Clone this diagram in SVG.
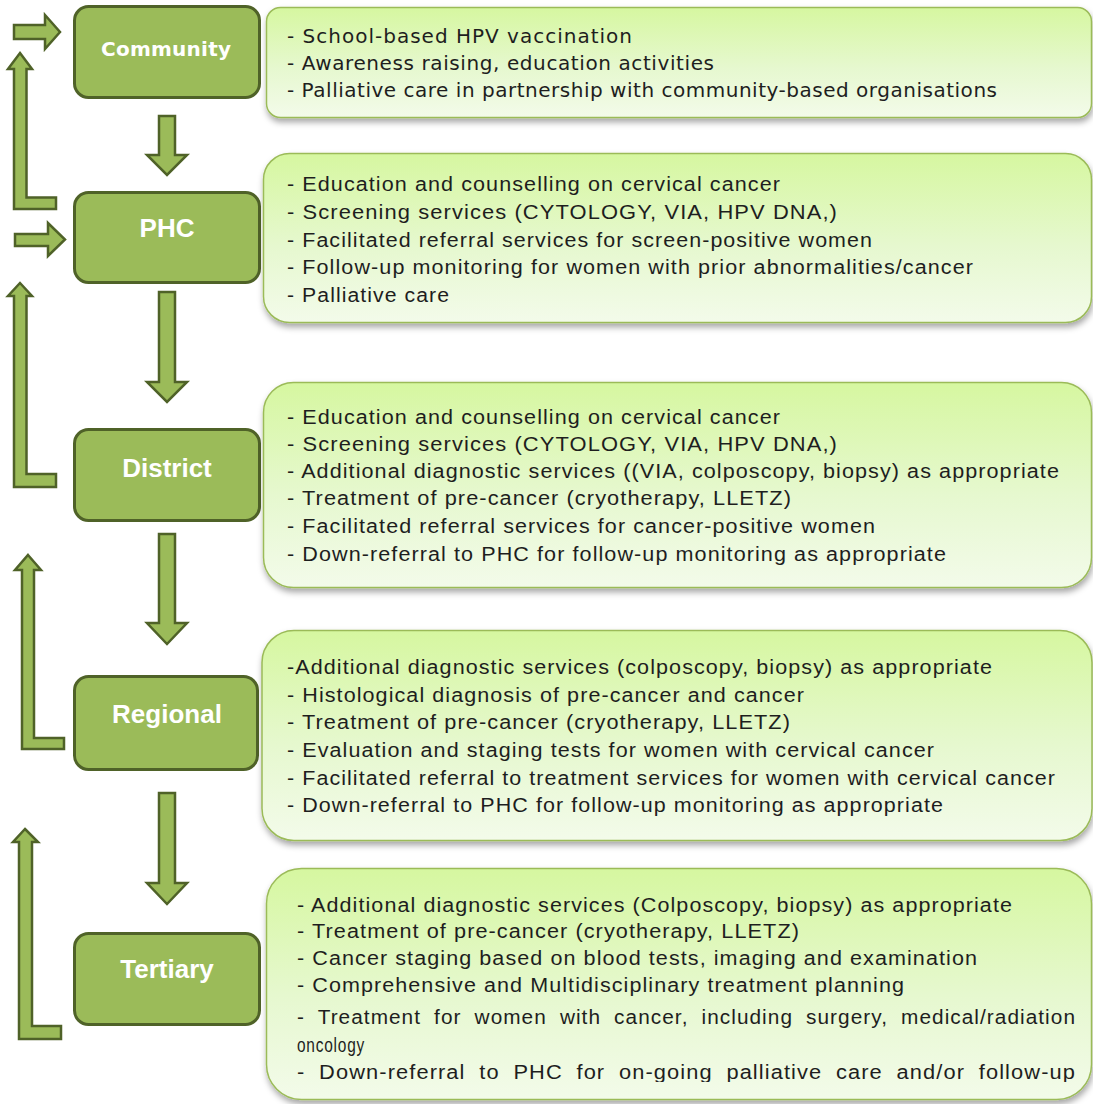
<svg xmlns="http://www.w3.org/2000/svg" width="1093" height="1104" viewBox="0 0 1093 1104">
  <defs>
    <linearGradient id="boxGrad" x1="0" y1="0" x2="0" y2="1">
      <stop offset="0" stop-color="#d6f7a0"/>
      <stop offset="0.55" stop-color="#e6f8cf"/>
      <stop offset="1" stop-color="#f3fbea"/>
    </linearGradient>
    <filter id="shadow" x="-5%" y="-10%" width="110%" height="130%">
      <feDropShadow dx="1" dy="4" stdDeviation="3" flood-color="#000" flood-opacity="0.35"/>
    </filter>
    <clipPath id="clip5">
      <rect x="260" y="860" width="833" height="222"/>
    </clipPath>
  </defs>
  <style>
    .node { fill: #9bbb59; stroke: #4f6228; stroke-width: 3; }
    .label { fill: #ffffff; font-family: "Liberation Sans", Arial, sans-serif; font-weight: bold; font-size: 26px; text-anchor: middle; }
    .label1 { fill: #ffffff; font-family: "DejaVu Sans", sans-serif; font-weight: bold; font-size: 20px; text-anchor: middle; }
    .info { fill: url(#boxGrad); stroke: #9bbb59; stroke-width: 1.5; filter: url(#shadow); }
    .t1 { fill: #1e1e1e; font-family: "DejaVu Sans", sans-serif; font-size: 20px; }
    .t { fill: #1e1e1e; font-family: "Liberation Sans", Arial, sans-serif; font-size: 20px; letter-spacing: 1px; }
    .just { word-spacing: 6px; }
    .arrow { fill: #9bbb59; stroke: #4f6228; stroke-width: 2.5; stroke-linejoin: miter; }
  </style>
  <rect width="1093" height="1104" fill="#ffffff"/>

  <g id="connectors">
    <polygon class="arrow" points="14,25 45,25 45,15 60,32 45,49 45,39 14,39"/>
    <polygon class="arrow" points="15,234 48,234 48,223 65,239.5 48,256 48,246 15,246"/>
    <polygon class="arrow" points="20,53 32,69 26.5,69 26.5,197.5 56,197.5 56,209 14,209 14,69 8,69"/>
    <polygon class="arrow" points="20,283 32,296 26.5,296 26.5,474 56,474 56,487 14,487 14,296 8,296"/>
    <polygon class="arrow" points="28,555 41,570 34,570 34,738 64,738 64,749 22,749 22,570 15,570"/>
    <polygon class="arrow" points="25,829 38,842 32,842 32,1026 61,1026 61,1039 19,1039 19,842 13,842"/>
    <polygon class="arrow" points="159,116 175,116 175,155 187,155 167,175 147,155 159,155"/>
    <polygon class="arrow" points="159,292 175,292 175,382 187,382 167,402 147,382 159,382"/>
    <polygon class="arrow" points="159,534 175,534 175,623 187,623 167,644 147,623 159,623"/>
    <polygon class="arrow" points="159,793 175,793 175,883 187,883 167,904 147,883 159,883"/>
  </g>

  <g id="community">
    <rect class="node" x="74.5" y="6.5" width="185" height="91" rx="14"/>
    <text class="label1" x="166" y="56" textLength="130" lengthAdjust="spacing">Community</text>
  </g>
  <g id="phc">
    <rect class="node" x="74.5" y="192.5" width="185" height="90" rx="14"/>
    <text class="label" x="167" y="237">PHC</text>
  </g>
  <g id="district">
    <rect class="node" x="74.5" y="429.5" width="185" height="91" rx="14"/>
    <text class="label" x="167" y="477">District</text>
  </g>
  <g id="regional">
    <rect class="node" x="74.5" y="676.5" width="183" height="93" rx="14"/>
    <text class="label" x="167" y="723">Regional</text>
  </g>
  <g id="tertiary">
    <rect class="node" x="74.5" y="933.5" width="185" height="91" rx="14"/>
    <text class="label" x="167" y="978">Tertiary</text>
  </g>

  <g id="community-services">
    <rect class="info" x="266.5" y="7.5" width="825" height="110" rx="14"/>
    <text class="t1" x="287" y="43" textLength="345" lengthAdjust="spacing">- School-based HPV vaccination</text>
    <text class="t1" x="287" y="70" textLength="427" lengthAdjust="spacing">- Awareness raising, education activities</text>
    <text class="t1" x="287" y="97" textLength="710" lengthAdjust="spacing">- Palliative care in partnership with community-based organisations</text>
  </g>

  <g id="phc-services">
    <rect class="info" x="263.5" y="153.5" width="828" height="169" rx="26"/>
    <text class="t" x="287" y="191" textLength="494" lengthAdjust="spacingAndGlyphs">- Education and counselling on cervical cancer</text>
    <text class="t" x="287" y="219" textLength="551" lengthAdjust="spacingAndGlyphs">- Screening services (CYTOLOGY, VIA, HPV DNA,)</text>
    <text class="t" x="287" y="247" textLength="586" lengthAdjust="spacingAndGlyphs">- Facilitated referral services for screen-positive women</text>
    <text class="t" x="287" y="274" textLength="687" lengthAdjust="spacingAndGlyphs">- Follow-up monitoring for women with prior abnormalities/cancer</text>
    <text class="t" x="287" y="302" textLength="163" lengthAdjust="spacingAndGlyphs">- Palliative care</text>
  </g>

  <g id="district-services">
    <rect class="info" x="263.5" y="382.5" width="828" height="205" rx="30"/>
    <text class="t" x="287" y="424" textLength="494" lengthAdjust="spacingAndGlyphs">- Education and counselling on cervical cancer</text>
    <text class="t" x="287" y="451" textLength="551" lengthAdjust="spacingAndGlyphs">- Screening services (CYTOLOGY, VIA, HPV DNA,)</text>
    <text class="t" x="287" y="478" textLength="773" lengthAdjust="spacingAndGlyphs">- Additional diagnostic services ((VIA, colposcopy, biopsy) as appropriate</text>
    <text class="t" x="287" y="505" textLength="505" lengthAdjust="spacingAndGlyphs">- Treatment of pre-cancer (cryotherapy, LLETZ)</text>
    <text class="t" x="287" y="533" textLength="589" lengthAdjust="spacingAndGlyphs">- Facilitated referral services for cancer-positive women</text>
    <text class="t" x="287" y="561" textLength="660" lengthAdjust="spacingAndGlyphs">- Down-referral to PHC for follow-up monitoring as appropriate</text>
  </g>

  <g id="regional-services">
    <rect class="info" x="262" y="630.5" width="830" height="210" rx="32"/>
    <text class="t" x="287" y="674" textLength="706" lengthAdjust="spacingAndGlyphs">-Additional diagnostic services (colposcopy, biopsy) as appropriate</text>
    <text class="t" x="287" y="702" textLength="518" lengthAdjust="spacingAndGlyphs">- Histological diagnosis of pre-cancer and cancer</text>
    <text class="t" x="287" y="729" textLength="504" lengthAdjust="spacingAndGlyphs">- Treatment of pre-cancer (cryotherapy, LLETZ)</text>
    <text class="t" x="287" y="757" textLength="648" lengthAdjust="spacingAndGlyphs">- Evaluation and staging tests for women with cervical cancer</text>
    <text class="t" x="287" y="785" textLength="769" lengthAdjust="spacingAndGlyphs">- Facilitated referral to treatment services for women with cervical cancer</text>
    <text class="t" x="287" y="812" textLength="657" lengthAdjust="spacingAndGlyphs">- Down-referral to PHC for follow-up monitoring as appropriate</text>
  </g>

  <g id="tertiary-services">
    <rect class="info" x="266.5" y="868.5" width="825" height="231" rx="35"/>
    <g clip-path="url(#clip5)">
      <text class="t" x="297" y="912" textLength="716" lengthAdjust="spacingAndGlyphs">- Additional diagnostic services (Colposcopy, biopsy) as appropriate</text>
      <text class="t" x="297" y="938" textLength="503" lengthAdjust="spacingAndGlyphs">- Treatment of pre-cancer (cryotherapy, LLETZ)</text>
      <text class="t" x="297" y="965" textLength="681" lengthAdjust="spacingAndGlyphs">- Cancer staging based on blood tests, imaging and examination</text>
      <text class="t" x="297" y="992" textLength="608" lengthAdjust="spacingAndGlyphs">- Comprehensive and Multidisciplinary treatment planning</text>
      <text class="t just" x="297" y="1024" textLength="779" lengthAdjust="spacingAndGlyphs">- Treatment for women with cancer, including surgery, medical/radiation</text>
      <text class="t" x="297" y="1052" textLength="68" lengthAdjust="spacingAndGlyphs">oncology</text>
      <text class="t just" x="297" y="1079" textLength="779" lengthAdjust="spacingAndGlyphs">- Down-referral to PHC for on-going palliative care and/or follow-up</text>
    </g>
  </g>
</svg>
